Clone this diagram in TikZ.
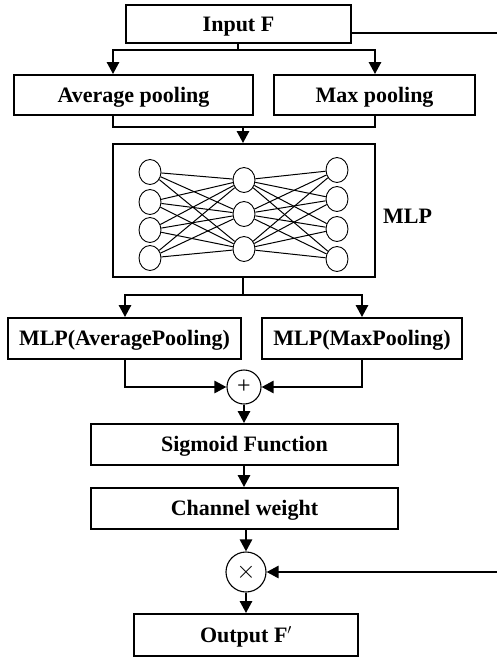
\documentclass[tikz,border=0pt]{standalone}
\usepackage{fontspec}
\setmainfont{Liberation Serif}
\usetikzlibrary{arrows.meta,shapes.geometric}
\begin{document}
\begin{tikzpicture}[x=1pt,y=-1pt,
  box/.style={draw, line width=1.8pt, inner sep=0pt, text height=14.5pt, text depth=0pt, font=\fontsize{22}{26}\selectfont\bfseries},
  conn/.style={line width=2.6pt},
  arr/.style={line width=2.6pt, -{Triangle[length=12pt,width=12pt]}},
  neuron/.style={draw, line width=0.9pt, ellipse, minimum width=22pt, minimum height=25pt, inner sep=0pt},
  link/.style={line width=1pt},
  op/.style={draw, circle, line width=1.1pt, inner sep=0pt}]
\useasboundingbox (0,0) rectangle (497,657);
% boxes
\node[box, minimum width=225pt, minimum height=38pt] (inp) at (238.5,24) {Input F};
\node[box, minimum width=239pt, minimum height=40pt] (avg) at (133.5,95) {Average pooling};
\node[box, minimum width=201pt, minimum height=40pt] (max) at (374.5,95) {Max pooling};
\node[draw, line width=1.8pt, minimum width=262pt, minimum height=133pt, inner sep=0pt] (mlp) at (244,210.5) {};
\node[font=\fontsize{22}{26}\selectfont\bfseries, anchor=west, inner sep=0pt, text height=14.5pt, text depth=0pt] (mlplab) at (383,216) {MLP};
\node[box, minimum width=233pt, minimum height=41pt] (mlpa) at (124.5,338.5) {MLP(AveragePooling)};
\node[box, minimum width=200pt, minimum height=41pt] (mlpm) at (362,338.5) {MLP(MaxPooling)};
\node[op, minimum size=34pt, font=\fontsize{24}{26}\selectfont] (plus) at (244,387) {+};
\node[box, minimum width=307pt, minimum height=41pt] (sig) at (244.5,444.5) {Sigmoid Function};
\node[box, minimum width=307pt, minimum height=41pt] (cw) at (244.5,508.5) {Channel weight};
\node[op, minimum size=40pt, font=\fontsize{30}{32}\selectfont] (mul) at (246,572) {$\times$};
\node[box, minimum width=224pt, minimum height=42pt] (out) at (246,635) {Output F$'$};
% neurons
\foreach \i/\y in {1/172,2/202,3/230,4/258} \node[neuron] (l\i) at (150,\y) {};
\foreach \i/\y in {1/180,2/214,3/249} \node[neuron] (m\i) at (244,\y) {};
\foreach \i/\y in {1/170,2/199,3/229,4/259} \node[neuron] (r\i) at (337,\y) {};
\foreach \i in {1,...,4} \foreach \j in {1,2,3} {
  \draw[link] (l\i) -- (m\j);
  \draw[link] (m\j) -- (r\i);
}
% coordinates
\coordinate (s1) at (238,50);
\coordinate (s1l) at (113,50);
\coordinate (s1r) at (375,50);
\coordinate (j1l) at (113,127);
\coordinate (j1r) at (375,127);
\coordinate (j1) at (243,127);
\coordinate (s2) at (243,295);
\coordinate (s2l) at (125,295);
\coordinate (s2r) at (362,295);
\coordinate (p1l) at (125,387);
\coordinate (p1r) at (362,387);
\coordinate (edge1) at (497,33);
\coordinate (edge2) at (497,572);
% connectors
\draw[conn] (inp.south -| s1) -- (s1);
\draw[arr] (s1) -- (s1l) -- (avg.north -| s1l);
\draw[arr] (s1) -- (s1r) -- (max.north -| s1r);
\draw[conn] (avg.south -| j1l) -- (j1l) -- (j1r) -- (max.south -| j1r);
\draw[arr] (j1) -- (mlp.north -| j1);
\draw[conn] (mlp.south -| s2) -- (s2);
\draw[arr] (s2) -- (s2l) -- (mlpa.north -| s2l);
\draw[arr] (s2) -- (s2r) -- (mlpm.north -| s2r);
\draw[arr] (mlpa.south -| p1l) -- (p1l) -- (plus.west);
\draw[arr] (mlpm.south -| p1r) -- (p1r) -- (plus.east);
\draw[arr] (plus.south) -- (sig.north -| plus);
\draw[arr] (sig.south -| plus) -- (cw.north -| plus);
\draw[arr] (cw.south -| mul) -- (mul.north);
\draw[arr] (mul.south) -- (out.north);
\draw[line width=1.8pt] (inp.east |- edge1) -- (edge1);
\draw[arr] (edge2) -- (mul.east);
\end{tikzpicture}
\end{document}
